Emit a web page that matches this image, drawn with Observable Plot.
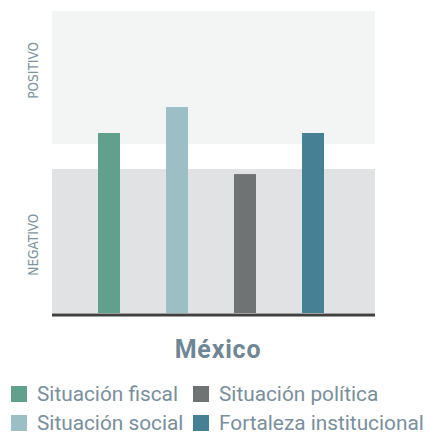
<!DOCTYPE html>
<html>
<head>
<meta charset="utf-8">
<script src="https://cdn.jsdelivr.net/npm/d3@7"></script>
<script src="https://cdn.jsdelivr.net/npm/@observablehq/plot@0.6"></script>
<style>
  html, body { margin: 0; padding: 0; background: #fff; }
  #wrap { position: relative; width: 428px; height: 433px; overflow: hidden; font-family: Roboto, "Noto Sans", sans-serif; }
  #chart svg { display: block; }
  #title { position: absolute; left: 0; width: 436px; top: 335px; text-align: center; font-size: 25px; font-weight: 700; color: #6f8694; line-height: 30px; letter-spacing: 0.8px; }
  #legend { position: absolute; left: 11px; top: 380px; display: grid; grid-template-columns: 182px auto; grid-auto-rows: 28.5px; }
  .item { display: flex; align-items: center; font-size: 20.8px; color: #7a8f9c; white-space: nowrap; }
  .sw { width: 16px; height: 16px; margin-right: 10px; flex: none; }
</style>
</head>
<body>
<div id="wrap">
  <div id="chart"></div>
  <div id="title"></div>
  <div id="legend"></div>
</div>
<script>
const categories = ["Situación fiscal", "Situación social", "Situación política", "Fortaleza institucional"];
const values = [59.6, 68.2, 46.0, 59.6];
const colors = ["#62a08e", "#9bbfc4", "#6f7374", "#468094"];
const bandNames = ["NEGATIVO", "POSITIVO"];
const bandLow = [0, 56];
const bandHigh = [47.7, 100];
const titleText = "México";
const legendOrder = [0, 2, 1, 3];

const bars = categories.map((c, i) => ({category: c, value: values[i]}));
const bands = bandNames.map((n, i) => ({name: n, y1: bandLow[i], y2: bandHigh[i]}));

const chart = Plot.plot({
  width: 428,
  height: 330,
  marginTop: 11,
  marginBottom: 17,
  marginLeft: 52,
  marginRight: 53,
  x: {domain: categories, range: [52, 370], padding: 0.676, axis: null},
  y: {domain: [0, 100], axis: null},
  color: {domain: categories, range: colors},
  marks: [
    Plot.rectY(bands, {y1: "y1", y2: "y2", fill: (d, i) => i === 0 ? "#e1e2e4" : "#f3f5f4"}),
    Plot.barY(bars, {x: "category", y: "value", fill: "category"}),
    Plot.ruleY([0], {stroke: "#404040", strokeWidth: 3, dy: 1.5}),
    Plot.text(bands, {
      y: (d, i) => i === 0 ? 22.8 : 80.5,
      frameAnchor: "left",
      dx: -18.5,
      text: "name",
      rotate: -90,
      textAnchor: "middle",
      lineAnchor: "middle",
      fill: "#7d93a0",
      fontSize: 13.5,
      fontFamily: "'Liberation Sans Narrow', 'DejaVu Sans Condensed', sans-serif"
    })
  ]
});
document.getElementById("chart").appendChild(chart);
document.getElementById("title").textContent = titleText;

const legend = document.getElementById("legend");
legendOrder.forEach(i => {
  const item = document.createElement("div");
  item.className = "item";
  const sw = document.createElement("span");
  sw.className = "sw";
  sw.style.background = colors[i];
  const label = document.createElement("span");
  label.textContent = categories[i];
  item.appendChild(sw);
  item.appendChild(label);
  legend.appendChild(item);
});
</script>
</body>
</html>
